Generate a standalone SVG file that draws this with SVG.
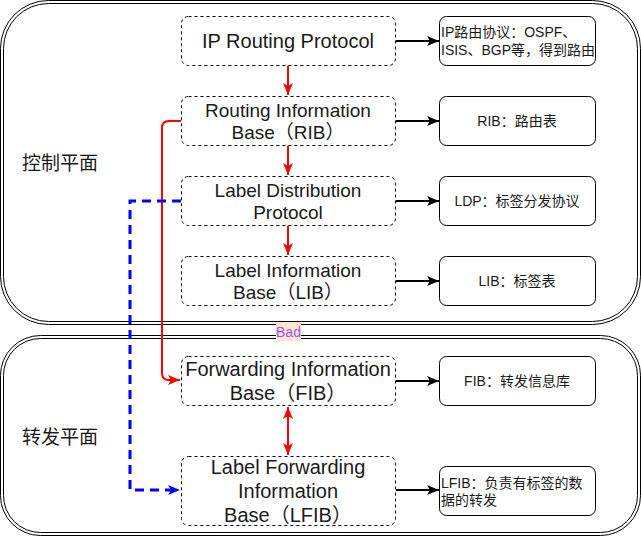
<svg xmlns="http://www.w3.org/2000/svg" width="641" height="536" viewBox="0 0 641 536">
<defs>
<style>
.cont{fill:none;stroke:#000;stroke-width:1}
.node{fill:#fff;stroke:#000;stroke-width:1;stroke-dasharray:3,3}
.box{fill:#fff;stroke:#000;stroke-width:1}
text{font-family:"Liberation Sans","Noto Sans CJK SC",sans-serif;fill:#1a1a1a;dominant-baseline:central}
.t20{font-size:20px;text-anchor:middle}
.t19{font-size:19px;text-anchor:middle}
.s14{font-size:14px}
.c14{font-size:14px;text-anchor:middle}
.plane{font-size:19px}
.blk{fill:none;stroke:#000;stroke-width:2}
.red{fill:none;stroke:#ff0000;stroke-width:2}
.blue{fill:none;stroke:#0000ff;stroke-width:3;stroke-dasharray:9,6}
</style>
<marker id="ab" markerUnits="userSpaceOnUse" markerWidth="14" markerHeight="12" refX="12" refY="5" orient="auto">
<path d="M0,0 L12,5 L0,10 L3,5 Z" fill="#000"/>
</marker>
<marker id="ar" markerUnits="userSpaceOnUse" markerWidth="14" markerHeight="12" refX="12" refY="5" orient="auto-start-reverse">
<path d="M0,0 L12,5 L0,10 L3,5 Z" fill="#ff0000"/>
</marker>
<marker id="abl" markerUnits="userSpaceOnUse" markerWidth="14" markerHeight="12" refX="12" refY="5" orient="auto">
<path d="M0,0 L12,5 L0,10 L3,5 Z" fill="#0000ff"/>
</marker>
</defs>

<g id="control-plane">
<rect class="cont" x="0.5" y="0.5" width="640" height="324" rx="48" ry="48"/>
<rect class="cont" x="3.5" y="3.5" width="634" height="318" rx="45" ry="45"/>
<text class="plane" x="22" y="163">控制平面</text>
</g>
<g id="forwarding-plane">
<rect class="cont" x="0.5" y="335.5" width="640" height="200" rx="40" ry="40"/>
<rect class="cont" x="3.5" y="338.5" width="634" height="194" rx="37" ry="37"/>
<text class="plane" x="22" y="437">转发平面</text>
</g>

<g id="connectors">
<line class="blk" x1="396" y1="41" x2="439" y2="41" marker-end="url(#ab)"/>
<line class="blk" x1="396" y1="121" x2="439" y2="121" marker-end="url(#ab)"/>
<line class="blk" x1="396" y1="201" x2="439" y2="201" marker-end="url(#ab)"/>
<line class="blk" x1="396" y1="281" x2="439" y2="281" marker-end="url(#ab)"/>
<line class="blk" x1="396" y1="381" x2="439" y2="381" marker-end="url(#ab)"/>
<line class="blk" x1="396" y1="490" x2="439" y2="490" marker-end="url(#ab)"/>
<line class="red" x1="288" y1="66" x2="288" y2="95" marker-end="url(#ar)"/>
<line class="red" x1="288" y1="146" x2="288" y2="175" marker-end="url(#ar)"/>
<line class="red" x1="288" y1="226" x2="288" y2="255" marker-end="url(#ar)"/>
<line class="red" x1="288" y1="407" x2="288" y2="455" marker-start="url(#ar)" marker-end="url(#ar)"/>
<path class="red" d="M181,121 L169,121 Q162,121 162,128 L162,373 Q162,380 169,380 L180,380" marker-end="url(#ar)"/>
<path class="blue" d="M181,201 L130,201 L130,490 L180,490" marker-end="url(#abl)"/>
<rect x="276" y="322" width="25" height="19" fill="#ffe6cc"/>
<text x="288.5" y="331.5" style="font-size:14px;text-anchor:middle;fill:#a050ff">Bad</text>
</g>

<g id="ip-routing-protocol">
<rect class="node" x="181.5" y="16.5" width="214" height="49" rx="7"/>
<text class="t20" x="288" y="41">IP Routing Protocol</text>
</g>
<g id="rib">
<rect class="node" x="181.5" y="96.5" width="214" height="49" rx="7"/>
<text class="t19" x="288" y="110">Routing Information</text>
<text class="t19" x="288" y="132">Base（RIB）</text>
</g>
<g id="ldp">
<rect class="node" x="181.5" y="176.5" width="214" height="49" rx="7"/>
<text class="t19" x="288" y="190">Label Distribution</text>
<text class="t19" x="288" y="212">Protocol</text>
</g>
<g id="lib">
<rect class="node" x="181.5" y="256.5" width="214" height="49" rx="7"/>
<text class="t19" x="288" y="270">Label Information</text>
<text class="t19" x="288" y="292">Base（LIB）</text>
</g>
<g id="fib">
<rect class="node" x="181.5" y="356.5" width="214" height="49" rx="7"/>
<text class="t20" x="288" y="369">Forwarding Information</text>
<text class="t20" x="288" y="393">Base（FIB）</text>
</g>
<g id="lfib">
<rect class="node" x="181.5" y="456.5" width="214" height="69" rx="7"/>
<text class="t20" x="288" y="467">Label Forwarding</text>
<text class="t20" x="288" y="491">Information</text>
<text class="t20" x="288" y="515">Base（LFIB）</text>
</g>

<g id="desc-ip">
<rect class="box" x="439.5" y="16.5" width="156" height="49" rx="7"/>
<text class="s14" x="441" y="32">IP路由协议：OSPF、</text>
<text class="s14" x="441" y="50">ISIS、BGP等，得到路由</text>
</g>
<g id="desc-rib">
<rect class="box" x="439.5" y="96.5" width="156" height="49" rx="7"/>
<text class="c14" x="517" y="121">RIB：路由表</text>
</g>
<g id="desc-ldp">
<rect class="box" x="439.5" y="176.5" width="156" height="49" rx="7"/>
<text class="c14" x="517" y="201">LDP：标签分发协议</text>
</g>
<g id="desc-lib">
<rect class="box" x="439.5" y="256.5" width="156" height="49" rx="7"/>
<text class="c14" x="517" y="281">LIB：标签表</text>
</g>
<g id="desc-fib">
<rect class="box" x="439.5" y="356.5" width="156" height="49" rx="7"/>
<text class="c14" x="517" y="381">FIB：转发信息库</text>
</g>
<g id="desc-lfib">
<rect class="box" x="439.5" y="466.5" width="156" height="49" rx="7"/>
<text class="s14" x="441" y="483">LFIB：负责有标签的数</text>
<text class="s14" x="441" y="500">据的转发</text>
</g>
</svg>
